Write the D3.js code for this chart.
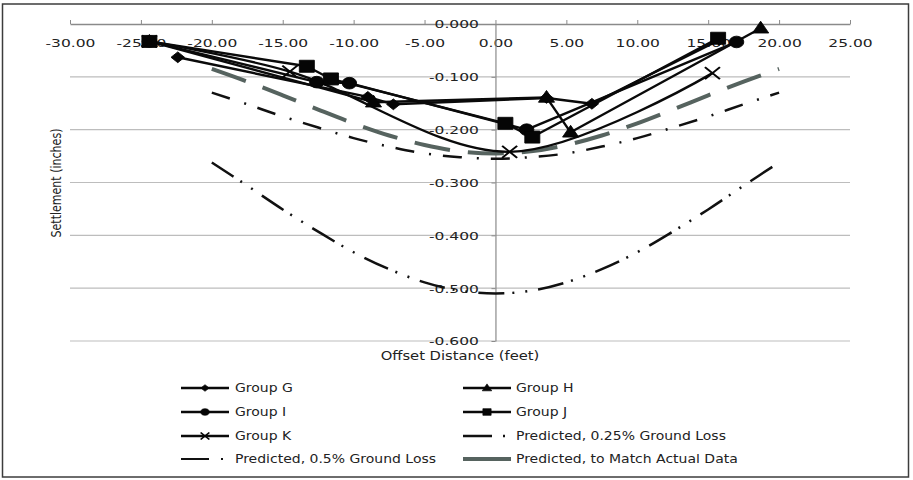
<!DOCTYPE html>
<html>
<head>
<meta charset="utf-8">
<script src="https://cdn.jsdelivr.net/npm/d3@7"></script>
<style>
  html, body { margin: 0; padding: 0; background: #fff; }
  svg { display: block; }
</style>
</head>
<body>
<svg id="chart" width="913" height="480"></svg>
<script>
// ---- data ---------------------------------------------------------------
const xTicks = [-30, -25, -20, -15, -10, -5, 0, 5, 10, 15, 20, 25];
const yTicks = [0, -0.1, -0.2, -0.3, -0.4, -0.5, -0.6];

// Measured settlement, offset (ft) vs settlement (in)
const groupG_x = [-22.4, -9.0, -7.2, 3.6, 6.8, 15.8];
const groupG_y = [-0.063, -0.138, -0.152, -0.140, -0.151, -0.030];
const groupH_x = [-24.4, -8.6, 3.6, 5.3, 18.7];
const groupH_y = [-0.033, -0.148, -0.139, -0.205, -0.008];
const groupI_x = [-24.4, -12.6, -10.3, 2.2, 17.0];
const groupI_y = [-0.033, -0.110, -0.112, -0.200, -0.034];
const groupJ_x = [-24.4, -13.3, -11.6, 0.7, 2.6, 15.7];
const groupJ_y = [-0.033, -0.080, -0.104, -0.188, -0.214, -0.027];
const groupK_x = [-24.4, -14.5, 1.0, 15.3];
const groupK_y = [-0.033, -0.090, -0.242, -0.093];

// Predicted settlement troughs
const predX = [-20, -17.5, -15, -12.5, -10, -7.5, -5, -2.5, 0, 2.5, 5, 7.5, 10, 12.5, 15, 17.5, 20];
const loss025 = [-0.130, -0.152, -0.175, -0.196, -0.216, -0.232, -0.245, -0.252, -0.255, -0.252, -0.245, -0.232, -0.216, -0.196, -0.175, -0.152, -0.130];
const loss05 = [-0.262, -0.306, -0.351, -0.393, -0.432, -0.464, -0.489, -0.505, -0.510, -0.505, -0.489, -0.464, -0.432, -0.393, -0.351, -0.306, -0.262];
const matchActual = [-0.085, -0.109, -0.135, -0.162, -0.188, -0.211, -0.229, -0.241, -0.245, -0.241, -0.229, -0.211, -0.188, -0.162, -0.135, -0.109, -0.085];

const seriesNames = ["Group G", "Group H", "Group I", "Group J", "Group K",
  "Predicted, 0.25% Ground Loss", "Predicted, 0.5% Ground Loss", "Predicted, to Match Actual Data"];
const xTitle = "Offset Distance (feet)";
const yTitle = "Settlement (inches)";

// ---- setup --------------------------------------------------------------
const FONT = "'DejaVu Sans', sans-serif";
const TEXT = "#222";
const GRAY_LINE = "#56635f";
const svg = d3.select("#chart");

svg.append("rect")
  .attr("x", 2.5).attr("y", 4).attr("width", 906).attr("height", 473)
  .attr("fill", "#fff").attr("stroke", "#3c3c3c").attr("stroke-width", 1.5);

function textWidth(str, size) {
  const t = svg.append("text").attr("font-family", FONT).attr("font-size", size).text(str);
  const w = t.node().getComputedTextLength();
  t.remove();
  return w;
}
// horizontal stretch of a text element about its anchor point
function stretch(sel, sx) {
  sel.each(function () {
    const t = d3.select(this);
    const x0 = +t.attr("x") || 0;
    t.attr("x", x0 / sx).attr("transform", `scale(${sx},1)`);
  });
}

const x = d3.scaleLinear().domain([-30, 25]).range([70, 850]);
const y = d3.scaleLinear().domain([0, -0.6]).range([24, 341]);

const tickSize = 11;
const sxTick = 50 / textWidth("-30.00", tickSize);

// ---- gridlines ----------------------------------------------------------
svg.append("g").selectAll("line")
  .data(yTicks.filter(d => d !== 0))
  .join("line")
  .attr("x1", x(-30)).attr("x2", x(25))
  .attr("y1", d => y(d)).attr("y2", d => y(d))
  .attr("stroke", "#bdbdbd").attr("stroke-width", 1.2);

// ---- axes ---------------------------------------------------------------
const xAxis = svg.append("g")
  .attr("transform", `translate(0,${y(0)})`)
  .call(d3.axisBottom(x).tickValues(xTicks).tickFormat(d => d.toFixed(2))
    .tickSize(-4).tickSizeOuter(0).tickPadding(15));
xAxis.attr("font-family", FONT).attr("font-size", tickSize);
xAxis.select(".domain").attr("stroke", "#8a8a8a").attr("stroke-width", 1.3);
xAxis.selectAll(".tick line").attr("stroke", "#8a8a8a");
xAxis.selectAll(".tick text").attr("fill", TEXT).call(stretch, sxTick);

const yAxis = svg.append("g")
  .attr("transform", `translate(${x(0)},0)`)
  .call(d3.axisLeft(y).tickValues(yTicks).tickFormat(d => d.toFixed(3))
    .tickSize(4).tickSizeOuter(0).tickPadding(12.5));
yAxis.attr("font-family", FONT).attr("font-size", tickSize);
yAxis.select(".domain").attr("stroke", "#8a8a8a").attr("stroke-width", 1.2);
yAxis.selectAll(".tick line").attr("stroke", "#8a8a8a");
yAxis.selectAll(".tick text").attr("fill", TEXT).attr("dy", "0.36em").call(stretch, sxTick);

// axis titles
const xtSize = 12.5;
svg.append("text")
  .attr("font-family", FONT).attr("font-size", xtSize).attr("fill", TEXT)
  .attr("text-anchor", "middle")
  .attr("transform", `translate(460,360) scale(${159 / textWidth(xTitle, xtSize)},1)`)
  .text(xTitle);

const ytSize = 11 * 109 / textWidth(yTitle, 11);
svg.append("text")
  .attr("font-family", FONT).attr("font-size", ytSize).attr("fill", TEXT)
  .attr("text-anchor", "middle")
  .attr("transform", "translate(61,183) scale(1.25,1) rotate(-90)")
  .text(yTitle);

// ---- predicted curves ---------------------------------------------------
const smooth = d3.line()
  .x(d => x(d[0])).y(d => y(d[1]))
  .curve(d3.curveCatmullRom.alpha(0.5));

const predicted = [
  { vals: matchActual, stroke: GRAY_LINE, width: 4, dash: "36,18" },
  { vals: loss025, stroke: "#111", width: 2.5, dash: "19,15,2,12" },
  { vals: loss05, stroke: "#111", width: 2.5, dash: "26,8,2,11,2,11" }
];
svg.append("g").selectAll("path")
  .data(predicted)
  .join("path")
  .attr("d", s => smooth(predX.map((px, i) => [px, s.vals[i]])))
  .attr("fill", "none")
  .attr("stroke", s => s.stroke)
  .attr("stroke-width", s => s.width)
  .attr("stroke-dasharray", s => s.dash);

// ---- measured groups ----------------------------------------------------
const straight = d3.line().x(d => x(d[0])).y(d => y(d[1]));

function markerPath(kind, h) {
  switch (kind) {
    case "diamond": return `M0,${-h}L${h},0L0,${h}L${-h},0Z`;
    case "triangle": return `M0,${-h * 1.25}L${h * 1.15},${h * 0.85}L${-h * 1.15},${h * 0.85}Z`;
    case "circle": return `M${h},0A${h},${h} 0 1,1 ${-h},0A${h},${h} 0 1,1 ${h},0Z`;
    case "square": return `M${-h},${-h}H${h}V${h}H${-h}Z`;
    case "x": return `M${-h},${-h}L${h},${h}M${-h},${h}L${h},${-h}`;
  }
}

const groups = [
  { xs: groupG_x, ys: groupG_y, marker: "diamond", size: 5.4, line: straight },
  { xs: groupH_x, ys: groupH_y, marker: "triangle", size: 5.6, line: straight },
  { xs: groupI_x, ys: groupI_y, marker: "circle", size: 5.8, line: straight },
  { xs: groupJ_x, ys: groupJ_y, marker: "square", size: 6, line: straight },
  { xs: groupK_x, ys: groupK_y, marker: "x", size: 6, line: smooth }
];

const gGroups = svg.append("g");
groups.forEach(g => {
  const pts = g.xs.map((v, i) => [v, g.ys[i]]);
  gGroups.append("path")
    .attr("d", g.line(pts))
    .attr("fill", "none").attr("stroke", "#0a0a0a").attr("stroke-width", 2.4)
    .attr("stroke-linejoin", "round");
});
groups.forEach(g => {
  const pts = g.xs.map((v, i) => [v, g.ys[i]]);
  gGroups.append("g").selectAll("path")
    .data(pts)
    .join("path")
    .attr("transform", d => `translate(${x(d[0])},${y(d[1])}) scale(1.25,1)`)
    .attr("d", markerPath(g.marker, g.size))
    .attr("fill", g.marker === "x" ? "none" : "#050505")
    .attr("stroke", "#050505")
    .attr("stroke-width", g.marker === "x" ? 1.7 : 0.8);
});

// ---- legend -------------------------------------------------------------
const legSize = 11.5;
const sxLeg = 222 / textWidth(seriesNames[7], legSize);
const colLine = [181, 463];
const colText = [235, 516];
const rowY = [388, 412, 436, 459];

const legendItems = seriesNames.map((name, i) => {
  const row = Math.floor(i / 2), col = i % 2;
  return { name, i, row, col };
});

const leg = svg.append("g");
legendItems.forEach(it => {
  const x0 = colLine[it.col], yy = rowY[it.row];
  if (it.i < 5) {
    leg.append("line")
      .attr("x1", x0).attr("x2", x0 + 48).attr("y1", yy).attr("y2", yy)
      .attr("stroke", "#0a0a0a").attr("stroke-width", 2.6);
    const g = groups[it.i];
    leg.append("path")
      .attr("transform", `translate(${x0 + 24},${yy}) scale(1.25,1)`)
      .attr("d", markerPath(g.marker, g.marker === "x" ? 3.5 : 3.3))
      .attr("fill", g.marker === "x" ? "none" : "#050505")
      .attr("stroke", "#050505")
      .attr("stroke-width", g.marker === "x" ? 1.4 : 0.6);
  } else if (it.i === 5) {
    leg.append("line")
      .attr("x1", x0).attr("x2", x0 + 44).attr("y1", yy).attr("y2", yy)
      .attr("stroke", "#111").attr("stroke-width", 2.6)
      .attr("stroke-dasharray", "29,11,2,20");
  } else if (it.i === 6) {
    leg.append("line")
      .attr("x1", x0).attr("x2", x0 + 44).attr("y1", yy).attr("y2", yy)
      .attr("stroke", "#111").attr("stroke-width", 2.2)
      .attr("stroke-dasharray", "28,12,2,20");
  } else {
    leg.append("line")
      .attr("x1", x0).attr("x2", x0 + 48).attr("y1", yy).attr("y2", yy)
      .attr("stroke", GRAY_LINE).attr("stroke-width", 4);
  }
  leg.append("text")
    .attr("x", colText[it.col]).attr("y", yy).attr("dy", "0.36em")
    .attr("font-family", FONT).attr("font-size", legSize).attr("fill", TEXT)
    .text(it.name)
    .call(stretch, sxLeg);
});
</script>
</body>
</html>
